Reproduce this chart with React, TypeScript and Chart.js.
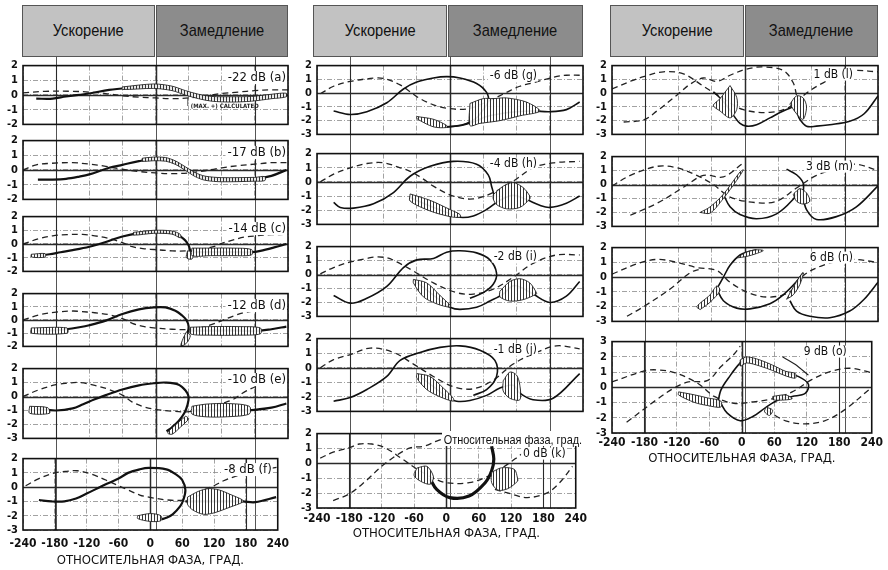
import React, { useEffect, useRef } from "react";
import { Chart, registerables } from "chart.js";
Chart.register(...registerables);

type P = [number, number];

// ---------- axis / text data ----------
const xTicks = [-240, -180, -120, -60, 0, 60, 120, 180, 240];
const strongX = [-180, 0, 180];
const xTitle = "ОТНОСИТЕЛЬНАЯ ФАЗА, ГРАД.";
const headerLeft = "Ускорение";
const headerRight = "Замедление";
const kNote = "Относительная фаза, град.";
const aNote = "(MAX. +) CALCULATED";

// ---------- panel (a) -22 dB ----------
const aDash: P[] = [[-240,0.15],[-200,0.25],[-150,0.25],[-120,0.2],[-90,0.1],[-60,-0.05],[-30,-0.15],[0,-0.2],[30,-0.25],[60,-0.2],[90,-0.05],[120,0.1],[150,0.2],[180,0.3],[210,0.35],[240,0.35]];
const aSolid: P[] = [[-216,-0.25],[-186,-0.25],[-162,-0.1],[-120,0.1],[-84,0.35],[-42,0.5],[-3,0.6],[30,0.45],[54,0.15],[78,-0.1],[102,-0.25],[138,-0.3],[174,-0.25],[210,-0.1],[237,0]];
const aBand: P[] = [[-60,0.55],[-3,0.75],[30,0.6],[54,0.3],[78,0.05],[102,-0.1],[138,-0.12],[174,-0.1],[210,0.05],[237,0.12],[237,-0.12],[210,-0.25],[174,-0.42],[138,-0.48],[102,-0.42],[78,-0.25],[54,0],[30,0.3],[-3,0.45],[-60,0.38]];

// ---------- panel (b) -17 dB ----------
const bDash: P[] = [[-240,0],[-216,0.35],[-192,0.45],[-150,0.5],[-120,0.4],[-90,0.25],[-60,0.05],[-30,-0.1],[0,-0.2],[30,-0.25],[60,-0.2],[90,-0.05],[120,0.15],[150,0.3],[180,0.4],[210,0.5],[240,0.5]];
const bSolid: P[] = [[-213,-0.65],[-186,-0.65],[-162,-0.6],[-138,-0.45],[-120,-0.3],[-84,0.15],[-60,0.35],[-30,0.6],[-3,0.75],[18,0.72],[36,0.5],[54,0.1],[72,-0.3],[90,-0.55],[120,-0.65],[150,-0.68],[180,-0.62],[210,-0.4],[237,0]];
const bBand: P[] = [[-24,0.8],[-3,0.88],[18,0.85],[36,0.62],[54,0.22],[72,-0.18],[90,-0.42],[120,-0.52],[180,-0.5],[198,-0.45],[198,-0.72],[180,-0.76],[120,-0.8],[90,-0.7],[72,-0.45],[54,-0.02],[36,0.38],[18,0.6],[-3,0.63],[-24,0.6]];

// ---------- panel (c) -14 dB ----------
const cDash: P[] = [[-240,0],[-210,0.4],[-186,0.6],[-160,0.68],[-132,0.7],[-110,0.6],[-84,0.4],[-60,0.1],[-42,-0.2],[-20,-0.35],[-3,-0.4],[30,-0.5],[57,-0.5],[80,-0.4],[105,-0.2],[120,0.05],[141,0.3],[160,0.5],[184,0.6],[210,0.68],[240,0.7]];
const cSolid: P[] = [[-216,-0.85],[-192,-0.75],[-172,-0.6],[-150,-0.45],[-120,-0.2],[-90,0.15],[-60,0.55],[-30,0.8],[-3,0.88],[21,0.85],[36,0.75],[45,0.55],[54,0.25],[60,-0.1],[63,-0.5],[66,-0.85]];
const cSolid2: P[] = [[66,-0.6],[100,-0.6],[150,-0.6],[174,-0.6],[190,-0.5],[215,-0.25],[237,0]];
const cBand1: P[] = [[-40,0.85],[-3,1.0],[30,0.95],[45,0.7],[45,0.45],[30,0.72],[-3,0.78],[-40,0.65]];
const cBand2: P[] = [[66,-0.3],[100,-0.3],[140,-0.3],[174,-0.4],[174,-0.8],[140,-0.85],[100,-0.85],[66,-0.85]];
const cBand3: P[] = [[58,-0.5],[68,-0.6],[66,-1.1],[56,-1.0]];
const cBand4: P[] = [[-225,-0.75],[-200,-0.7],[-200,-0.95],[-225,-0.95]];

// ---------- panel (d) -12 dB ----------
const dDash: P[] = [[-240,0],[-210,0.4],[-180,0.6],[-150,0.68],[-138,0.65],[-110,0.55],[-84,0.4],[-60,0.1],[-42,-0.25],[-20,-0.5],[-3,-0.6],[30,-0.7],[57,-0.72],[80,-0.6],[105,-0.3],[120,-0.05],[141,0.3],[160,0.55],[180,0.7],[210,0.8],[240,0.8]];
const dSolid: P[] = [[-216,-0.8],[-186,-0.78],[-162,-0.7],[-138,-0.55],[-120,-0.4],[-90,-0.05],[-60,0.45],[-30,0.8],[-3,0.95],[18,0.95],[36,0.7],[48,0.35],[56,0],[60,-0.5],[58,-1.0],[52,-1.5],[48,-1.85]];
const dSolid2: P[] = [[63,-0.8],[100,-0.8],[150,-0.8],[180,-0.85],[210,-0.7],[237,-0.5]];
const dBand1: P[] = [[63,-0.55],[100,-0.5],[150,-0.5],[190,-0.6],[190,-1.05],[150,-1.15],[100,-1.15],[63,-1.05]];
const dBand2: P[] = [[-225,-0.6],[-160,-0.6],[-160,-1.0],[-225,-1.0]];
const dBand3: P[] = [[56,-0.9],[63,-1.2],[55,-1.8],[46,-1.95],[50,-1.4]];

// ---------- panel (e) -10 dB ----------
const eDash: P[] = [[-240,0],[-210,0.5],[-180,0.85],[-160,0.95],[-138,1.0],[-110,0.8],[-84,0.5],[-60,0.1],[-42,-0.4],[-20,-0.75],[-3,-0.9],[30,-1.05],[57,-1.1],[80,-0.95],[105,-0.7],[120,-0.5],[141,-0.2],[160,0.3],[184,0.75],[210,1.05],[240,1.2]];
const eSolid: P[] = [[-216,-0.9],[-180,-1.0],[-150,-0.85],[-131,-0.55],[-110,-0.2],[-90,0.1],[-60,0.5],[-30,0.8],[-3,0.95],[18,1.0],[42,0.85],[55,0.4],[60,0],[58,-0.6],[52,-1.2],[42,-1.75],[30,-2.2],[20,-2.5]];
const eSolid2: P[] = [[66,-1.0],[100,-1.0],[150,-1.0],[180,-0.95],[210,-0.8],[237,-0.5]];
const eBand1: P[] = [[66,-0.7],[90,-0.55],[130,-0.5],[170,-0.7],[170,-1.25],[130,-1.45],[90,-1.45],[66,-1.25]];
const eBand2: P[] = [[55,-1.4],[60,-1.6],[45,-2.2],[30,-2.7],[22,-2.6],[40,-1.9]];
const eBand3: P[] = [[-228,-0.7],[-195,-0.8],[-192,-1.2],[-228,-1.2]];

// ---------- panel (f) -8 dB ----------
const fDash: P[] = [[-235,0.1],[-210,0.6],[-180,1.0],[-160,1.1],[-138,1.15],[-110,0.9],[-84,0.5],[-60,0.1],[-42,-0.2],[-20,-0.55],[-3,-0.7],[33,-0.9],[66,-0.9],[90,-0.6],[102,-0.2],[120,0.1],[138,0.45],[160,0.75],[180,1.0],[210,1.2],[240,1.4]];
const fSolid: P[] = [[-210,-0.9],[-186,-1.0],[-162,-1.0],[-140,-0.8],[-120,-0.45],[-84,0.2],[-60,0.6],[-42,1.0],[-20,1.25],[-3,1.35],[30,1.25],[48,0.9],[60,0.5],[66,-0.2],[62,-0.9],[56,-1.35],[42,-1.9],[30,-2.15],[21,-2.25]];
const fSolid2: P[] = [[66,-1.0],[100,-1.0],[150,-1.0],[174,-1.0],[198,-1.05],[237,-0.7]];
const fBand1: P[] = [[-24,-2.0],[0,-1.85],[20,-2.0],[20,-2.35],[0,-2.4],[-24,-2.2]];
const fBand2: P[] = [[70,-0.7],[90,-0.3],[110,-0.1],[130,-0.2],[150,-0.5],[174,-0.9],[174,-1.05],[150,-1.4],[120,-1.8],[100,-1.9],[80,-1.6],[70,-1.2]];

// ---------- panel (g) -6 dB ----------
const gDash: P[] = [[-234,-0.05],[-210,0.5],[-180,0.85],[-132,1.1],[-114,1.0],[-90,0.6],[-72,0.1],[-54,-0.4],[-30,-0.85],[-6,-1.1],[30,-1.15],[66,-0.65],[102,0.05],[126,0.5],[150,0.75],[186,1.15],[210,1.3],[234,1.3]];
const gSolid: P[] = [[-210,-1.3],[-180,-1.55],[-150,-1.35],[-114,-0.7],[-84,0.3],[-60,0.8],[-30,1.1],[-6,1.2],[18,1.1],[48,0.7],[66,0.05],[69,-0.6],[60,-1.2],[48,-1.8],[30,-2.2],[10,-2.4],[-6,-2.45]];
const gSolid2: P[] = [[-6,-2.45],[20,-2.35],[42,-2.1],[66,-1.7],[90,-1.5],[120,-1.35],[150,-1.3],[180,-1.35],[210,-1.2],[234,-0.65]];
const gBand1: P[] = [[36,-0.75],[60,-0.4],[78,-0.4],[102,-0.35],[138,-0.65],[162,-1.3],[126,-1.65],[90,-2.0],[54,-2.2],[36,-2.35]];
const gBand2: P[] = [[-60,-1.7],[-30,-1.9],[-6,-2.35],[-6,-2.5],[-30,-2.45],[-60,-1.85]];

// ---------- panel (h) -4 dB ----------
const hDash: P[] = [[-234,0],[-210,0.55],[-180,1.0],[-150,1.3],[-120,1.35],[-90,1.0],[-72,0.75],[-48,0.2],[-30,-0.3],[6,-1.0],[42,-1.2],[78,-0.75],[114,0.05],[150,1.0],[186,1.35],[234,1.45]];
const hSolid: P[] = [[-210,-1.45],[-198,-1.8],[-174,-1.85],[-138,-1.55],[-102,-0.75],[-72,0.4],[-36,1.1],[6,1.45],[48,1.25],[69,0.5],[75,-0.3],[80,-1.0]];
const hSolid2: P[] = [[-72,-1.1],[-36,-1.7],[0,-2.25],[18,-2.5],[42,-2.4],[66,-1.95],[90,-1.3],[114,-0.95],[138,-1.25],[162,-1.65],[180,-1.8],[210,-1.5],[234,-1.0]];
const hBand1: P[] = [[-72,-0.85],[-36,-1.3],[0,-1.95],[18,-2.3],[18,-2.5],[0,-2.45],[-36,-2.05],[-72,-1.35]];
const hBand2: P[] = [[78,-0.9],[96,-0.3],[114,-0.05],[132,-0.4],[144,-1.0],[144,-1.2],[126,-1.8],[102,-1.9],[84,-1.6],[78,-1.2]];

// ---------- panel (i) -2 dB ----------
const iDash: P[] = [[-234,0.05],[-210,0.5],[-180,0.9],[-150,1.15],[-138,1.25],[-114,1.2],[-96,0.9],[-66,0.25],[-30,-0.6],[12,-1.3],[42,-1.4],[78,-1.05],[114,-0.2],[150,0.8],[192,1.4],[234,1.4]];
const iSolid: P[] = [[-210,-1.5],[-180,-2.05],[-150,-1.7],[-114,-0.85],[-84,0.5],[-60,1.05],[-30,1.15],[-6,1.6],[18,1.7],[48,1.55],[72,1.05],[84,0.1],[78,-0.7],[60,-1.3],[36,-1.7]];
const iSolid2: P[] = [[-66,-0.4],[-42,-1.1],[-18,-1.85],[0,-2.35],[18,-2.5],[48,-2.35],[72,-1.9],[96,-1.4],[114,-0.8],[132,-1.0],[150,-1.4],[180,-2.0],[210,-1.55],[234,-0.5]];
const iBand1: P[] = [[-66,-0.35],[-42,-0.6],[-18,-1.5],[0,-2.2],[0,-2.35],[-24,-2.1],[-48,-1.6],[-66,-0.6]];
const iBand2: P[] = [[90,-1.2],[108,-0.5],[126,-0.3],[144,-0.6],[156,-1.3],[156,-1.4],[132,-1.8],[108,-1.9],[90,-1.6]];

// ---------- panel (j) -1 dB ----------
const jDash: P[] = [[-234,0],[-210,0.55],[-180,0.9],[-144,1.35],[-102,1.05],[-66,0.25],[-30,-0.6],[6,-1.3],[42,-1.45],[78,-0.85],[114,0.25],[150,0.95],[192,1.5],[234,1.3]];
const jSolid: P[] = [[-210,-2.3],[-180,-2.05],[-150,-1.5],[-114,-0.6],[-90,0.5],[-54,1.05],[-18,1.4],[18,1.5],[54,1.2],[81,0.5],[84,-0.6],[66,-1.5],[42,-1.9]];
const jSolid2: P[] = [[-54,-0.6],[-30,-1.3],[-6,-2.0],[12,-2.3],[36,-2.25],[66,-1.9],[90,-1.4],[114,-1.2],[126,-1.75],[150,-2.2],[186,-2.1],[234,-0.4]];
const jBand1: P[] = [[-60,-0.4],[-36,-0.6],[-12,-1.4],[6,-2.1],[6,-2.3],[-18,-2.0],[-42,-1.5],[-60,-0.7]];
const jBand2: P[] = [[96,-0.9],[108,-0.3],[120,-0.5],[126,-1.2],[126,-2.2],[108,-2.1],[96,-1.6]];

// ---------- panel (k) 0 dB ----------
const kDash: P[] = [[-234,0.35],[-210,0.75],[-180,1.05],[-162,1.3],[-138,1.3],[-114,1.05],[-84,0.35],[-54,-0.4],[-24,-1.0],[0,-1.3],[42,-1.3],[78,-0.85],[114,-0.05],[150,0.85],[170,1.0]];
const kDash2: P[] = [[-210,-2.5],[-180,-2.05],[-150,-1.2],[-120,-0.2],[-90,0.6],[-66,1.05],[-42,1.15],[-18,1.5],[0,1.7]];
const kDash3: P[] = [[90,-1.75],[120,-2.05],[150,-2.3],[186,-2.0],[210,-1.3],[234,-0.2]];
const kThick: P[] = [[84,1.15],[88,0.3],[84,-0.5],[72,-1.3],[42,-2.2],[6,-2.3],[-18,-1.75],[-30,-1.05]];
const kBand1: P[] = [[-54,-0.3],[-36,-0.2],[-24,-0.9],[-30,-1.4],[-48,-1.2],[-60,-0.8]];
const kBand2: P[] = [[84,-0.6],[102,-0.3],[126,-0.4],[132,-1.0],[132,-1.2],[114,-1.7],[96,-1.8],[84,-1.3]];

// ---------- panel (l) 1 dB ----------
const lDash: P[] = [[-240,0.3],[-207,0.85],[-183,1.2],[-147,1.55],[-111,1.4],[-75,0.5],[-39,-0.4],[-3,-1.2],[45,-1.4],[81,-1.0],[111,0],[141,0.75],[189,1.6],[240,1.55]];
const lDash2: P[] = [[-219,-2.1],[-183,-1.95],[-159,-1.3],[-123,-0.15],[-99,0.65],[-75,1.1],[-51,0.85],[-27,1.3],[3,1.75],[33,1.9],[69,1.65],[87,0.75],[93,-0.15]];
const lSolid: P[] = [[-57,0.1],[-39,-0.6],[-21,-1.6],[-9,-2.2],[3,-2.4],[21,-2.3],[45,-1.8],[69,-1.3],[87,-1.0]];
const lSolid2: P[] = [[93,-1.3],[99,-1.9],[111,-2.4],[129,-2.4],[153,-2.3],[189,-2.05],[215,-1.5],[240,-0.2]];
const lBand1: P[] = [[-27,0.55],[-15,-0.3],[-15,-1.2],[-27,-1.8],[-45,-1.3],[-57,-0.9],[-45,-0.4]];
const lBand2: P[] = [[81,-0.8],[93,-0.2],[105,-0.35],[111,-1.0],[105,-1.9],[93,-1.5]];

// ---------- panel (m) 3 dB ----------
const mDash: P[] = [[-240,-0.1],[-207,0.65],[-159,1.3],[-123,1.2],[-87,0.65],[-57,0],[-27,-0.9],[21,-1.3],[57,-1.2],[93,-0.25],[129,0.65],[177,1.3],[201,1.45],[240,1.0]];
const mDash2: P[] = [[-207,-2.2],[-159,-1.35],[-111,-0.2],[-75,0.65],[-39,0.55],[-3,1.55]];
const mSolid: P[] = [[-39,-0.7],[-27,-1.6],[-9,-2.15],[21,-2.45],[57,-2.1],[87,-1.05],[99,-0.3]];
const mSolid2: P[] = [[75,1.1],[93,0.7],[105,0.1],[105,-0.8],[111,-1.8],[129,-2.5],[165,-2.3],[201,-1.6],[240,-0.1]];
const mBand1: P[] = [[-81,-2.0],[-63,-1.6],[-39,-0.7],[-9,0.9],[-3,1.05],[-15,0.3],[-39,-1.0],[-63,-2.05]];
const mBand2: P[] = [[87,-0.7],[99,-0.3],[111,-0.6],[117,-1.2],[105,-1.4],[93,-1.2]];

// ---------- panel (n) 6 dB ----------
const nDash: P[] = [[-240,0.2],[-195,0.9],[-159,1.2],[-123,1.0],[-87,0.65],[-51,0.45],[-27,-0.35],[9,-1.1],[45,-1.35],[81,-1.0],[105,0.1],[141,0.8],[189,1.2],[240,1.0]];
const nDash2: P[] = [[-213,-2.65],[-183,-2.0],[-135,-0.8],[-99,0.3],[-81,0.55]];
const nSolid: P[] = [[-51,-0.8],[-39,0],[-27,0.8],[-9,1.5],[9,1.75],[21,1.85]];
const nSolid2: P[] = [[-51,-0.8],[-39,-1.6],[-15,-2.1],[9,-2.15],[45,-1.8],[69,-1.2],[93,-0.3],[105,0.3]];
const nSolid3: P[] = [[81,-1.6],[93,-2.3],[117,-2.65],[153,-2.75],[189,-2.3],[215,-1.5],[240,-0.35]];
const nBand1: P[] = [[-81,-2.2],[-63,-1.7],[-45,-0.9],[-51,-0.6],[-63,-1.2],[-87,-2.0]];
const nBand2: P[] = [[-15,1.3],[3,1.7],[21,1.85],[33,1.8],[21,1.6],[3,1.4]];
const nBand3: P[] = [[75,-1.5],[93,-0.3],[105,0.3],[99,-0.5],[87,-1.2]];

// ---------- panel (o) 9 dB ----------
const oDash: P[] = [[-240,0.35],[-183,1.05],[-159,1.15],[-123,0.95],[-81,0.25],[-51,-0.6],[-15,-1.05],[21,-0.95],[57,-0.75],[93,-0.3],[129,0.5],[165,1.05],[201,1.25],[240,0.95]];
const oDash2: P[] = [[-213,-2.3],[-159,-0.85],[-123,0],[-99,0.35],[-63,0.45],[-39,1.35],[-15,2.15],[-3,2.7]];
const oDash3: P[] = [[45,-1.5],[81,-2.2],[117,-2.4],[153,-2.2],[189,-1.5],[240,0]];
const oThin: P[] = [[75,2.0],[99,1.5],[123,0.8]];
const oSolid: P[] = [[-45,-1.3],[-39,-0.2],[-21,0.8],[-3,1.6],[9,1.9],[33,1.6],[57,1.3],[81,0.95],[105,0.7],[123,0.2],[117,-0.4],[93,-0.6],[69,-0.8],[45,-1.3],[21,-1.9],[-3,-2.2],[-27,-1.7],[-39,-1.05]];
const oBand1: P[] = [[-3,1.8],[9,2.0],[33,1.8],[57,1.45],[81,1.05],[99,0.9],[99,0.6],[81,0.75],[57,1.1],[33,1.4],[9,1.6],[-3,1.4]];
const oBand2: P[] = [[-117,-0.3],[-87,-0.5],[-63,-0.7],[-39,-0.9],[-39,-1.3],[-63,-1.2],[-87,-1.0],[-117,-0.5]];
const oBand3: P[] = [[57,-0.6],[81,-0.5],[93,-0.75],[69,-0.85],[57,-0.8]];
const oBand4: P[] = [[45,-1.3],[57,-1.5],[51,-1.85],[42,-1.6]];

// ---------- layout ----------
type Spec = {
  label: string; L: number; R: number; T: number; B: number;
  ymin: number; ymax: number; bottom: boolean;
  lblRight: number; lblY: number; lblSize: number;
  dashed: P[][]; solid: P[][]; lenses: P[][]; thick?: P[][]; thin?: P[][];
  note?: boolean; axH?: number; tickPad?: number;
};

const C1 = { L: 23, R: 288 };
const C2 = { L: 317, R: 583 };
const C3 = { L: 612, R: 878 };

const panels: Spec[] = [
  { label: "-22 dB (a)", ...C1, T: 62, B: 128, ymin: -2, ymax: 2, bottom: false, lblRight: 2, lblY: 12, lblSize: 13, dashed: [aDash], solid: [aSolid], lenses: [aBand], note: true },
  { label: "-17 dB (b)", ...C1, T: 137, B: 203, ymin: -2, ymax: 2, bottom: false, lblRight: 2, lblY: 12, lblSize: 13, dashed: [bDash], solid: [bSolid], lenses: [bBand] },
  { label: "-14 dB (c)", ...C1, T: 213, B: 275, ymin: -2, ymax: 2, bottom: false, lblRight: 2, lblY: 12, lblSize: 13, dashed: [cDash], solid: [cSolid, cSolid2], lenses: [cBand1, cBand2, cBand3, cBand4] },
  { label: "-12 dB (d)", ...C1, T: 290, B: 350, ymin: -2, ymax: 2, bottom: false, lblRight: 2, lblY: 12, lblSize: 13, dashed: [dDash], solid: [dSolid, dSolid2], lenses: [dBand1, dBand2, dBand3] },
  { label: "-10 dB (e)", ...C1, T: 365, B: 442, ymin: -3, ymax: 2, bottom: false, lblRight: 2, lblY: 11, lblSize: 13, dashed: [eDash], solid: [eSolid, eSolid2], lenses: [eBand1, eBand2, eBand3] },
  { label: "-8 dB (f)", ...C1, T: 455, B: 530, ymin: -3, ymax: 2, bottom: true, axH: 40, tickPad: 7, lblRight: 6, lblY: 11, lblSize: 13, dashed: [fDash], solid: [fSolid, fSolid2], lenses: [fBand1, fBand2] },
  { label: "-6 dB (g)", ...C2, T: 62, B: 138, ymin: -3, ymax: 2, bottom: false, lblRight: 46, lblY: 10, lblSize: 12, dashed: [gDash], solid: [gSolid, gSolid2], lenses: [gBand1, gBand2] },
  { label: "-4 dB (h)", ...C2, T: 150, B: 228, ymin: -3, ymax: 2, bottom: false, lblRight: 46, lblY: 10, lblSize: 12, dashed: [hDash], solid: [hSolid, hSolid2], lenses: [hBand1, hBand2] },
  { label: "-2 dB (i)", ...C2, T: 243, B: 320, ymin: -3, ymax: 2, bottom: false, lblRight: 46, lblY: 10, lblSize: 12, dashed: [iDash], solid: [iSolid, iSolid2], lenses: [iBand1, iBand2] },
  { label: "-1 dB (j)", ...C2, T: 335, B: 415, ymin: -3, ymax: 2, bottom: false, lblRight: 46, lblY: 11, lblSize: 12, dashed: [jDash], solid: [jSolid, jSolid2], lenses: [jBand1, jBand2] },
  { label: "0 dB (k)", ...C2, T: 430, B: 508, ymin: -3, ymax: 2, bottom: true, axH: 35, tickPad: 4, lblRight: 10, lblY: 20, lblSize: 12, dashed: [kDash, kDash2, kDash3], solid: [], thick: [kThick], lenses: [kBand1, kBand2] },
  { label: "1 dB (l)", ...C3, T: 62, B: 138, ymin: -3, ymax: 2, bottom: false, lblRight: 25, lblY: 9, lblSize: 12, dashed: [lDash, lDash2], solid: [lSolid, lSolid2], lenses: [lBand1, lBand2] },
  { label: "3 dB (m)", ...C3, T: 153, B: 230, ymin: -3, ymax: 2, bottom: false, lblRight: 25, lblY: 10, lblSize: 12, dashed: [mDash, mDash2], solid: [mSolid, mSolid2], lenses: [mBand1, mBand2] },
  { label: "6 dB (n)", ...C3, T: 244, B: 325, ymin: -3, ymax: 2, bottom: false, lblRight: 25, lblY: 10, lblSize: 12, dashed: [nDash, nDash2], solid: [nSolid, nSolid2, nSolid3], lenses: [nBand1, nBand2, nBand3] },
  { label: "9 dB (o)", ...C3, T: 338, B: 433, ymin: -3, ymax: 3, bottom: true, axH: 35, tickPad: 3, lblRight: 25, lblY: 10, lblSize: 12, dashed: [oDash, oDash2, oDash3], solid: [oSolid], thin: [oThin], lenses: [oBand1, oBand2, oBand3, oBand4] },
];

const FONT = '"Liberation Sans Narrow", "Arial Narrow", "DejaVu Sans Condensed", "Liberation Sans", sans-serif';
const HFONT = '"Liberation Sans", Arial, sans-serif';
const PAD_L = 26;
const PAD = 8;

function toXY(pts: P[], close = false) {
  const arr = pts.map(([x, y]) => ({ x, y }));
  if (close && pts.length) arr.push({ x: pts[0][0], y: pts[0][1] });
  return arr;
}

function makeHatch(ctx: CanvasRenderingContext2D) {
  const c = document.createElement("canvas");
  c.width = 3; c.height = 3;
  const g = c.getContext("2d")!;
  g.fillStyle = "rgba(255,255,255,0.9)";
  g.fillRect(0, 0, 3, 3);
  g.fillStyle = "#333";
  g.fillRect(1, 0, 1, 3);
  return ctx.createPattern(c, "repeat")!;
}

function Panel({ p }: { p: Spec }) {
  const ref = useRef<HTMLCanvasElement>(null);
  const axH = p.axH || 0;
  const w = p.R - p.L + PAD_L + PAD;
  const h = p.B - p.T + PAD + (p.bottom ? axH : PAD);
  useEffect(() => {
    const canvas = ref.current!;
    const ctx = canvas.getContext("2d")!;
    const hatch = makeHatch(ctx);
    const datasets: any[] = [];
    p.lenses.forEach((l) => datasets.push({ data: toXY(l, true), borderColor: "#222", borderWidth: 0.9, backgroundColor: hatch, fill: "shape", tension: 0.3, pointRadius: 0 }));
    p.solid.forEach((s) => datasets.push({ data: toXY(s), borderColor: "#111", borderWidth: p.L < 100 ? 2.2 : 1.6, fill: false, tension: 0.35, pointRadius: 0 }));
    (p.thick || []).forEach((s) => datasets.push({ data: toXY(s), borderColor: "#111", borderWidth: 3.2, fill: false, tension: 0.35, pointRadius: 0 }));
    (p.thin || []).forEach((s) => datasets.push({ data: toXY(s), borderColor: "#222", borderWidth: 1.1, fill: false, tension: 0.2, pointRadius: 0 }));
    p.dashed.forEach((d) => datasets.push({ data: toXY(d), borderColor: "#222", borderWidth: 1.3, borderDash: [6, 4], fill: false, tension: 0.35, pointRadius: 0 }));

    const framePlugin = {
      id: "frame",
      beforeDatasetsDraw(chart: any) {
        // solid reference lines (zero phase, ±180°, zero level) over the dash-dot grid
        const a = chart.chartArea;
        const c = chart.ctx;
        const xs = chart.scales.x;
        const ys = chart.scales.y;
        c.save();
        c.strokeStyle = "#2a2a2a";
        strongX.forEach((v) => {
          const px = Math.round(xs.getPixelForValue(v)) + 0.5;
          c.lineWidth = v === 0 ? 1.5 : 1.1;
          c.beginPath(); c.moveTo(px, a.top); c.lineTo(px, a.bottom); c.stroke();
        });
        const py = Math.round(ys.getPixelForValue(0)) + 0.5;
        c.lineWidth = 1.5;
        c.beginPath(); c.moveTo(a.left, py); c.lineTo(a.right, py); c.stroke();
        c.restore();
      },
      afterDraw(chart: any) {
        const a = chart.chartArea;
        const c = chart.ctx;
        c.save();
        c.strokeStyle = "#111";
        c.lineWidth = 1.6;
        c.strokeRect(a.left, a.top, a.right - a.left, a.bottom - a.top);
        c.font = `${p.lblSize}px ${FONT}`;
        c.textAlign = "right";
        c.textBaseline = "middle";
        const tx = a.right - p.lblRight;
        const ty = a.top + p.lblY;
        const tw = c.measureText(p.label).width;
        c.fillStyle = "#fff";
        c.fillRect(tx - tw - 2, ty - p.lblSize / 2, tw + 3, p.lblSize);
        c.fillStyle = "#111";
        c.fillText(p.label, tx, ty);
        if (p.note) {
          const xs = chart.scales.x;
          const ys = chart.scales.y;
          const nx = xs.getPixelForValue(62);
          const ny = ys.getPixelForValue(-0.75);
          c.strokeStyle = "#333";
          c.lineWidth = 0.8;
          c.beginPath();
          c.moveTo(nx - 2, ys.getPixelForValue(-0.2));
          c.lineTo(nx - 2, ny);
          c.stroke();
          c.font = `bold 6px ${FONT}`;
          c.textAlign = "left";
          c.fillStyle = "#222";
          c.fillText(aNote, nx + 1, ny);
        }
        c.restore();
      },
    };

    const gridColor = "#8a8a8a";
    const chart = new Chart(ctx, {
      type: "line",
      data: { datasets },
      options: {
        animation: false,
        responsive: false,
        maintainAspectRatio: false,
        events: [],
        layout: { padding: { left: 0, top: PAD, right: PAD, bottom: p.bottom ? 0 : PAD } },
        plugins: { legend: { display: false }, tooltip: { enabled: false } },
        scales: {
          x: {
            type: "linear",
            min: -240,
            max: 240,
            afterBuildTicks: (s: any) => { s.ticks = xTicks.map((v) => ({ value: v })); },
            afterFit: (s: any) => { s.height = p.bottom ? axH : 0; },
            ticks: { display: p.bottom, font: { family: FONT, size: 12, weight: "bold" }, color: "#111", padding: p.tickPad || 4, maxRotation: 0, autoSkip: false },
            grid: { drawTicks: false, color: gridColor, lineWidth: 0.8 },
            border: { display: false, dash: [5, 2, 1, 2] },
            title: { display: p.bottom, text: xTitle, font: { family: FONT, size: 13 }, color: "#111", padding: { top: 0, bottom: 2 } },
          },
          y: {
            min: p.ymin,
            max: p.ymax,
            afterFit: (s: any) => { s.width = PAD_L; },
            ticks: { stepSize: 1, autoSkip: false, font: { family: FONT, size: 11, weight: "bold" }, color: "#111", padding: 5 },
            grid: { drawTicks: false, color: gridColor, lineWidth: 0.8 },
            border: { display: false, dash: [5, 2, 1, 2] },
          },
        },
      } as any,
      plugins: [framePlugin],
    });
    return () => chart.destroy();
  }, []);
  return (
    <canvas
      ref={ref}
      width={w}
      height={h}
      style={{ position: "absolute", left: p.L - PAD_L, top: p.T - PAD, width: w, height: h }}
    />
  );
}

function Narrow({ text, size, scale }: { text: string; size: number; scale: number }) {
  return (
    <span style={{ display: "inline-block", fontFamily: HFONT, fontSize: size, transform: `scaleX(${scale})`, whiteSpace: "nowrap" }}>{text}</span>
  );
}

function Header({ L, R, mid }: { L: number; R: number; mid: number }) {
  const base: React.CSSProperties = {
    position: "absolute", top: 5, height: 52, boxSizing: "border-box", border: "1px solid #555",
    display: "flex", alignItems: "center", justifyContent: "center", color: "#111",
  };
  return (
    <>
      <div style={{ ...base, left: L, width: mid - L, background: "#c2c2c2" }}><Narrow text={headerLeft} size={17} scale={0.86} /></div>
      <div style={{ ...base, left: mid + 1, width: R - mid - 1, background: "#8c8c8c" }}><Narrow text={headerRight} size={17} scale={0.86} /></div>
    </>
  );
}

function VLines({ L, R, bottom }: { L: number; R: number; bottom: number }) {
  return (
    <>
      {strongX.map((d) => (
        <div key={d} style={{ position: "absolute", left: Math.round(L + ((d + 240) / 480) * (R - L)), top: 57, width: 1, height: bottom - 57, background: "#555" }} />
      ))}
    </>
  );
}

export default function App() {
  return (
    <div style={{ position: "absolute", left: 0, top: 0, width: 888, height: 570, background: "#fff", overflow: "hidden" }}>
      <VLines L={C1.L} R={C1.R} bottom={530} />
      <VLines L={C2.L} R={C2.R} bottom={508} />
      <VLines L={C3.L} R={C3.R} bottom={433} />
      <Header L={22} R={288} mid={155} />
      <Header L={313} R={583} mid={447} />
      <Header L={610} R={878} mid={744} />
      {panels.map((p) => (
        <Panel key={p.label} p={p} />
      ))}
      <div style={{ position: "absolute", left: 442, top: 431, width: 138, height: 15, background: "#fff", overflow: "visible", color: "#111", lineHeight: "15px" }}>
        <div style={{ transformOrigin: "0 0", transform: "scaleX(0.84)", paddingLeft: 2 }}>
          <span style={{ fontFamily: HFONT, fontSize: 13, whiteSpace: "nowrap" }}>{kNote}</span>
        </div>
      </div>
    </div>
  );
}
